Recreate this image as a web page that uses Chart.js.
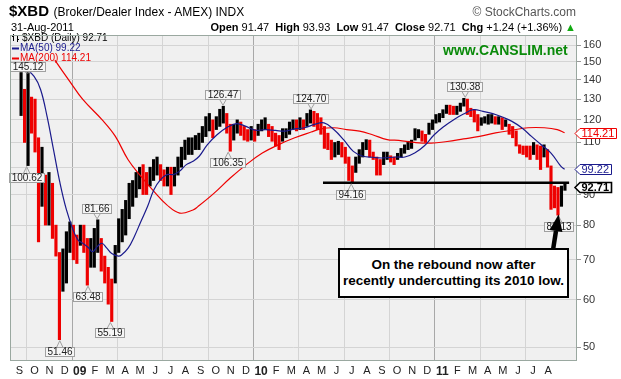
<!DOCTYPE html>
<html><head><meta charset="utf-8">
<script src="https://cdn.jsdelivr.net/npm/chart.js@4.4.1/dist/chart.umd.min.js"></script>
<style>
html,body{margin:0;padding:0;background:#fff;}
#wrap{position:relative;width:621px;height:379px;overflow:hidden;font-family:"Liberation Sans",Arial,sans-serif;color:#000;}
canvas{position:absolute;left:0;top:0;}
.t{position:absolute;white-space:nowrap;line-height:1;}
#callout{position:absolute;left:338px;top:248px;width:227px;height:46px;border:2px solid #000;background:#fff;
 font-weight:bold;font-size:13.5px;line-height:16px;text-align:center;padding-top:0;display:flex;flex-direction:column;justify-content:center;}
</style></head><body>
<div id="wrap">
<canvas id="c" width="621" height="379"></canvas>
<div class="t" style="left:9px;top:3px;"><b style="font-size:15px">$XBD</b> <span style="font-size:12px">(Broker/Dealer Index - AMEX) INDX</span></div>
<div class="t" style="right:45px;top:6px;font-size:12px;color:#555">© StockCharts.com</div>
<div class="t" id="dateLine" style="left:11px;top:22px;font-size:11px"></div>
<div class="t" id="ohlcLine" style="right:45px;top:22px;font-size:11px"></div>
<div class="t" style="left:443px;top:43px;font-size:14px;font-weight:bold;color:#0a8a0a">www.CANSLIM.net</div>
<div id="callout"><div>On the rebound now after</div><div>recently undercutting its 2010 low.</div></div>
</div>
<script>
// ---------- DATA ----------
const symbol = '$XBD';
const lastDate = '31-Aug-2011';
const lastOpen = 91.47, lastHigh = 93.93, lastLow = 91.47, lastClose = 92.71, lastChg = 1.24, lastChgPct = 1.36;
const lastMA50 = 99.22, lastMA200 = 114.21;

const monthLabels = ['S','O','N','D','09','F','M','A','M','J','J','A','S','O','N','D','10','F','M','A','M','J','J','A','S','O','N','D','11','F','M','A','M','J','J','A'];
const yTickValues = [50,60,70,80,90,100,110,120,130,140,150,160];
const yTickHidden = [100];

// weekly high / low, week 0 = first week of Sep 2008
const weeklyHigh = [144,135,145.12,131,130,112,108,97,98,94,80,72,73,78,81,80,77,80,80,76,76,79,81.66,76,71,68,65,74,82,85,88,94,95,98,100,101,98,100,103,104,101,99,100,100,100,104,108,111,112,112,113,114,
117,121.5,123,120,121.5,125,126.47,123,118,118,120,119,117,115.6,117,115.6,118,120,121,118,117,114,113,116,116,119,120,120,121,120,123,124.7,124,123,121,117,114,111,110,110.5,110,108,104,100.5,104,107,110,111.2,111,106,104,103,
106,106,104.5,104,105.5,107.5,109,110.5,111,116,115.6,115,113.5,118.5,120,122.5,123,124.8,127,127,126.5,126.5,128,130.38,130,125.5,124.8,122.5,121,121.5,122.5,122.5,121.5,121.5,121,120,118,117,115,109,108.5,108.5,108.5,110,109,108.5,109,107,100.5,93,92.5,93,93.93];
const weeklyLow = [122,110,100.62,114,106,75,86,80,80,76,71,51.46,62,64,72,70,69,74,72,63.48,68,68,72,67,64,59,55.19,64,72,75,77,82,86,89,92,90,90,93,95,97,95,93,93,90,93,97,100,103,105,105,107,107,
110,112.5,115,112,115.6,117,118.5,114,106.35,111,114,113,111,110.5,111,110.5,113,115,115.6,112.5,110.5,108.5,107,110.5,112,113.5,115.6,115,115.6,115.6,117,118.5,117,115.6,113.5,107.5,107,103,104,105,104,101.5,95,94.16,98,101.5,104,107,104,103,97,97,
101,103,102,101,103,104,105.5,107,107.5,111,112,110.5,110,113.5,115.6,118.5,119,121,123,122.5,122.5,122.5,124,126.5,122.5,121.5,119,115,117.5,118.5,118,118.5,118,118,115.6,117,113.5,112,108.5,105.5,105,104,103,105,103,99.1,104,100,85,85.5,83.13,86,91.47];

const ma50Weeks  = [1.44,4.23,6.09,7.95,9.8,11.66,13.5,15.4,16.8,18.2,20,21,22.4,23.7,25.1,26.5,28.4,29.3,31.2,33,34.9,36.8,38.6,40.5,42.3,44.2,46,47.9,49.8,51.6,53.9,56.7,59.4,62.3,65,67.8,70.7,73.5,76.2,79,81.8,84.6,87.4,90.2,93,95.8,98.6,101.4,104.1,107.9,110.6,113.4,116.2,119,121.8,124.6,127.4,130.2,133,135.8,138.5,141.3,144.1,146.9,149.7,152.5,155.3,156.4];
const ma50Values = [146.6,141.9,134.9,121.6,107,94.1,84.9,78.6,75.6,74.6,73.2,72.2,73.7,74.6,73.2,71.7,71,71.3,73.2,76.6,81.2,86,91.7,95.3,97.2,97.2,98.5,101,102.3,104.3,109,113.3,116.4,118.3,117,115.3,115.6,115.2,114.9,115.9,116.4,117.9,118.6,115.6,111.2,106.3,104.3,103.9,103.6,104,104,105.6,108.6,113.3,117,120.1,122.7,124.8,124,122.9,121.3,119.3,116.4,112.6,109,105.6,100.4,99.22];

const ma200Weeks  = [10.2,14.45,18.2,23.7,27.5,31.2,34.9,38.6,42.3,46,49.8,51.2,55.8,60.5,65.1,69.7,74.4,79,83.7,86.5,90.2,93.9,97.6,101.3,105.5,108.8,113.4,118.1,122.7,127.4,132,136.6,141.3,145.9,150.6,154.3,156.4];
const ma200Values = [151,139.2,129.8,120.1,112.7,102.9,96.5,91.1,86.5,83.8,84.8,85.9,90.4,95.9,101,105.6,109.1,112,114.5,115.9,116.4,115.6,114.9,113.3,111.2,110.9,110,109.7,110.4,111.5,112.6,114.1,115.3,116.4,116.4,115.6,114.21];

const annotWeeks  = [2.4, 2.1, 22.3, 19.7, 26.1, 11.6, 58.4, 59.9, 83.7, 95.2, 127.9, 154.7];
const annotValues = [145.12, 100.62, 81.66, 63.48, 55.19, 51.46, 126.47, 106.35, 124.70, 94.16, 130.38, 83.13];
const annotSide   = ['above','below','above','below','below','below','above','below','above','below','above','below'];

const supportLevel = 94.16;
const supportStartWeek = 87.1;

// ---------- BUILD ----------
document.getElementById('dateLine').textContent = lastDate;
document.getElementById('ohlcLine').innerHTML =
  '<b>Open</b> ' + lastOpen.toFixed(2) + '&nbsp; <b>High</b> ' + lastHigh.toFixed(2) + '&nbsp; <b>Low</b> ' + lastLow.toFixed(2) +
  '&nbsp; <b>Close</b> ' + lastClose.toFixed(2) + '&nbsp; <b>Chg</b> +' + lastChg.toFixed(2) + ' (+' + lastChgPct.toFixed(2) + '%) <span style="color:#1a1">&#9650;</span>';

const upBars = [], downBars = [];
let prevMid = null;
weeklyHigh.forEach((h, i) => {
  const l = weeklyLow[i];
  const mid = (h + l) / 2;
  const pt = {x: i + 0.5, y: [l, h]};
  if (prevMid === null || mid >= prevMid) upBars.push(pt); else downBars.push(pt);
  prevMid = mid;
});
const ma50Pts = ma50Weeks.map((w, i) => ({x: w, y: ma50Values[i]}));
const ma200Pts = ma200Weeks.map((w, i) => ({x: w, y: ma200Values[i]}));
const XMIN = -0.42, XMAX = 157.7;
const supportPts = [{x: supportStartWeek, y: supportLevel}, {x: XMAX, y: supportLevel}];

const FONT = '"Liberation Sans", Arial, sans-serif';
const isYear = s => /\d/.test(s);

const decor = {
  id: 'decor',
  beforeDraw(chart) {
    const {ctx, chartArea: a} = chart;
    ctx.save();
    ctx.fillStyle = '#fff'; ctx.fillRect(0, 0, chart.width, chart.height);
    ctx.fillStyle = '#f0f0f0'; ctx.fillRect(a.left, a.top, a.right - a.left, a.bottom - a.top);
    ctx.restore();
  },
  afterDatasetsDraw(chart) {
    const {ctx, chartArea: a} = chart;
    const xs = chart.scales.x, ys = chart.scales.y;
    ctx.save();
    // legend
    ctx.font = '10px ' + FONT;
    ctx.textAlign = 'left'; ctx.textBaseline = 'middle';
    ctx.strokeStyle = '#000'; ctx.lineWidth = 1;
    ctx.beginPath();
    ctx.moveTo(13.5, 34); ctx.lineTo(13.5, 41); ctx.moveTo(12, 36.5); ctx.lineTo(13.5, 36.5);
    ctx.moveTo(17.5, 35); ctx.lineTo(17.5, 42); ctx.moveTo(17.5, 39.5); ctx.lineTo(19, 39.5);
    ctx.stroke();
    ctx.fillStyle = '#000'; ctx.fillText(symbol + ' (Daily) ' + lastClose.toFixed(2), 22, 38);
    ctx.fillStyle = '#1a1a8c'; ctx.fillRect(12, 47.5, 7, 2);
    ctx.fillText('MA(50) ' + lastMA50.toFixed(2), 20, 48.5);
    ctx.fillStyle = '#ee0000'; ctx.fillRect(12, 57.5, 7, 2);
    ctx.fillText('MA(200) ' + lastMA200.toFixed(2), 20, 58.5);
    // annotation labels
    annotValues.forEach((v, i) => {
      const px = xs.getPixelForValue(annotWeeks[i]);
      const py = ys.getPixelForValue(v);
      const txt = v.toFixed(2);
      const tw = ctx.measureText(txt).width;
      const bw = Math.round(tw + 5), bh = 10;
      const above = annotSide[i] === 'above';
      let by = Math.round(above ? py - 6 - bh : py + 7);
      if (above) by = Math.max(by, a.top + 27);
      const bx = Math.round(px - bw / 2);
      ctx.strokeStyle = '#a0a0a0'; ctx.lineWidth = 1;
      ctx.beginPath();
      if (above) { ctx.moveTo(px - 3, by + bh); ctx.lineTo(px, Math.max(py - 1, by + bh + 1)); ctx.lineTo(px + 3, by + bh); }
      else { ctx.moveTo(px - 3, by); ctx.lineTo(px, py + 1); ctx.lineTo(px + 3, by); }
      ctx.stroke();
      ctx.fillStyle = '#f6f6f6'; ctx.fillRect(bx, by, bw, bh);
      ctx.strokeRect(bx + 0.5, by + 0.5, bw - 1, bh - 1);
      ctx.fillStyle = '#222'; ctx.textAlign = 'center'; ctx.textBaseline = 'middle';
      ctx.fillText(txt, bx + bw / 2, by + bh / 2 + 0.5);
    });
    // frame
    ctx.strokeStyle = '#9aa8a0'; ctx.lineWidth = 1;
    ctx.strokeRect(a.left + 0.5, a.top + 0.5, a.right - a.left - 1, a.bottom - a.top - 1);
    // right value boxes
    const valBox = (v, color, bold) => {
      const py = Math.round(ys.getPixelForValue(v));
      ctx.font = (bold ? 'bold ' : '') + '11px ' + FONT;
      const txt = v.toFixed(2);
      const tw = ctx.measureText(txt).width;
      const x0 = 575, x1 = 580, x2 = Math.round(580 + tw + 3), h = 10;
      ctx.beginPath();
      ctx.moveTo(x0, py + 0.5); ctx.lineTo(x1, py - h / 2 + 0.5); ctx.lineTo(x2 + 0.5, py - h / 2 + 0.5);
      ctx.lineTo(x2 + 0.5, py + h / 2 + 0.5); ctx.lineTo(x1, py + h / 2 + 0.5); ctx.closePath();
      ctx.fillStyle = '#fff'; ctx.fill();
      ctx.strokeStyle = color; ctx.lineWidth = bold ? 1.6 : 1; ctx.stroke();
      ctx.fillStyle = color; ctx.textAlign = 'left'; ctx.textBaseline = 'middle';
      ctx.fillText(txt, x1 + 1.5, py + 1);
    };
    valBox(lastMA200, '#ee0000', false);
    valBox(lastMA50, '#1a1a8c', false);
    valBox(lastClose, '#000', true);
    // arrow from callout to the recent low
    const n = annotValues.length - 1;
    const tx = xs.getPixelForValue(annotWeeks[n]), ty = ys.getPixelForValue(annotValues[n]) - 1;
    const bx0 = 553, by0 = 250;
    const ang = Math.atan2(ty - by0, tx - bx0);
    const headLen = 17, headW = 6.5;
    const hx = tx - headLen * Math.cos(ang), hy = ty - headLen * Math.sin(ang);
    ctx.strokeStyle = '#000'; ctx.lineWidth = 4.5; ctx.lineCap = 'butt';
    ctx.beginPath(); ctx.moveTo(bx0, by0); ctx.lineTo(hx, hy); ctx.stroke();
    ctx.fillStyle = '#000';
    ctx.beginPath();
    ctx.moveTo(tx, ty);
    ctx.lineTo(hx + headW * Math.sin(ang), hy - headW * Math.cos(ang));
    ctx.lineTo(hx - headW * Math.sin(ang), hy + headW * Math.cos(ang));
    ctx.closePath(); ctx.fill();
    ctx.restore();
  }
};

new Chart(document.getElementById('c'), {
  data: {
    datasets: [
      {type: 'line', data: supportPts, borderColor: '#000', borderWidth: 2.5, pointRadius: 0, order: 0},
      {type: 'line', data: ma50Pts, borderColor: '#1a1a8c', borderWidth: 1.2, pointRadius: 0, tension: 0.4, order: 1},
      {type: 'line', data: ma200Pts, borderColor: '#ee0000', borderWidth: 1.2, pointRadius: 0, tension: 0.4, order: 2},
      {type: 'bar', data: downBars, backgroundColor: '#ee0000', barThickness: 2.5, grouped: false, order: 3},
      {type: 'bar', data: upBars, backgroundColor: '#000', barThickness: 2.5, grouped: false, order: 4}
    ]
  },
  options: {
    responsive: false, animation: false, devicePixelRatio: 1,
    layout: {padding: {left: 10, top: 35, right: 0, bottom: 0}},
    plugins: {legend: {display: false}, tooltip: {enabled: false}},
    scales: {
      x: {
        type: 'linear', min: XMIN, max: XMAX,
        afterBuildTicks: s => { s.ticks = monthLabels.map((l, i) => ({value: i * 52 / 12})); },
        afterFit: s => { s.height = 18; },
        ticks: {
          autoSkip: false, maxRotation: 0, padding: 3, color: '#222',
          font: c => ({family: FONT, size: isYear(monthLabels[c.index] || '') ? 12 : 11, weight: isYear(monthLabels[c.index] || '') ? 'bold' : 'normal'}),
          callback: (v, i) => monthLabels[i]
        },
        grid: {
          drawTicks: false, lineWidth: 1,
          color: c => {
            const i = c.index;
            if (i === undefined || i % 3 !== 1) return 'rgba(0,0,0,0)';
            return isYear(monthLabels[i]) ? '#a8a8a8' : '#d4d4d4';
          }
        },
        border: {display: false}
      },
      y: {
        type: 'logarithmic', position: 'right', min: 47.4, max: 166.4,
        afterBuildTicks: s => { s.ticks = yTickValues.map(v => ({value: v})); },
        afterFit: s => { s.width = 44; },
        ticks: {autoSkip: false, padding: 2, color: '#333', font: {family: FONT, size: 11},
          callback: v => yTickHidden.includes(v) ? '' : String(v)},
        grid: {color: '#d4d4d4', drawTicks: true, tickLength: 4, tickColor: '#999'},
        border: {display: false}
      }
    }
  },
  plugins: [decor]
});
</script>
</body></html>
